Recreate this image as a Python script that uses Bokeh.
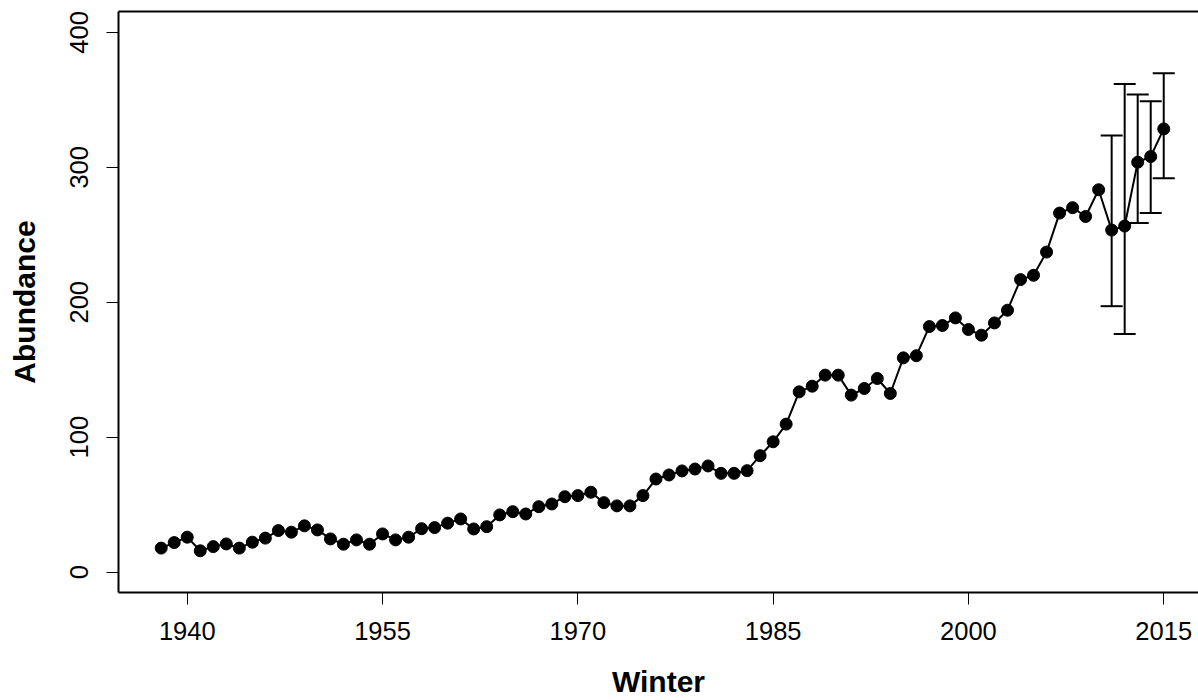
from bokeh.plotting import figure
from bokeh.models import Range1d, FixedTicker, LinearAxis, Whisker, TeeHead, ColumnDataSource
from bokeh.embed import file_html
from bokeh.resources import INLINE

years = list(range(1938, 2016))
abundance = [
    17.8, 21.9, 25.9, 15.8, 18.9, 20.9, 17.8, 22.2, 25.2, 30.8,
    29.6, 34.3, 31.3, 24.6, 20.7, 23.9, 20.7, 28.3, 23.9, 25.9,
    32.2, 33.0, 36.3, 39.4, 32.0, 33.7, 42.4, 44.8, 43.1, 48.5,
    50.5, 55.9, 56.7, 59.2, 51.5, 49.1, 49.1, 56.7, 69.0, 72.0,
    75.0, 76.4, 78.7, 73.2, 73.2, 75.2, 86.3, 96.6, 109.7, 133.6,
    137.8, 146.0, 146.0, 131.2, 136.1, 143.5, 132.4, 158.8, 160.4, 182.0,
    182.8, 188.4, 179.8, 175.6, 184.7, 194.1, 216.8, 220.0, 237.2, 266.1,
    270.1, 263.6, 283.4, 253.5, 256.5, 303.8, 308.0, 328.5,
]

err_years = [2011, 2012, 2013, 2014, 2015]
err_lower = [197.1, 176.5, 258.7, 266.1, 292.0]
err_upper = [323.6, 361.8, 353.9, 349.0, 369.7]

x_ticks = [1940, 1955, 1970, 1985, 2000, 2015]
y_ticks = [0, 100, 200, 300, 400]

FONT = "Liberation Sans"

p = figure(width=1198, height=700, output_backend="svg", toolbar_location=None,
           x_range=Range1d(1934.72, 2017.67), y_range=Range1d(-15.1, 415.5),
           min_border_left=118, min_border_right=0, min_border_top=11, min_border_bottom=107)
p.outline_line_color = None
p.xgrid.visible = False
p.ygrid.visible = False
p.background_fill_color = "white"
p.border_fill_color = "white"

for ax in (p.xaxis[0], p.yaxis[0]):
    ax.axis_line_width = 2
    ax.axis_line_color = "black"
    ax.major_tick_line_width = 1
    ax.major_tick_line_color = "black"
    ax.major_tick_out = 12
    ax.major_tick_in = 0
    ax.minor_tick_line_color = None
    ax.major_label_text_font = FONT
    ax.major_label_text_font_size = "25.5px"
    ax.major_label_text_color = "black"
    ax.axis_label_text_font = FONT
    ax.axis_label_text_font_size = "30px"
    ax.axis_label_text_font_style = "bold"
    ax.axis_label_text_color = "black"

p.xaxis.ticker = FixedTicker(ticks=x_ticks)
p.yaxis.ticker = FixedTicker(ticks=y_ticks)
p.xaxis.axis_label = "Winter"
p.yaxis.axis_label = "Abundance"
p.yaxis.major_label_orientation = "vertical"
p.xaxis.major_label_standoff = 17
p.yaxis.major_label_standoff = 18
p.xaxis.axis_label_standoff = 22
p.yaxis.axis_label_standoff = 27

top = LinearAxis(ticker=FixedTicker(ticks=[]), axis_line_width=2, axis_line_color="black",
                 major_tick_out=0, major_tick_in=0, minor_tick_out=0, minor_tick_in=0,
                 major_label_text_font_size="0px", major_label_standoff=0)
p.add_layout(top, "above")

p.line(years, abundance, line_width=2, color="black")
p.scatter(years, abundance, size=12, color="black")

src = ColumnDataSource(dict(year=err_years, lo=err_lower, hi=err_upper))
w = Whisker(base="year", lower="lo", upper="hi", source=src, line_width=2, line_color="black",
            upper_head=TeeHead(size=22, line_width=2, line_color="black"),
            lower_head=TeeHead(size=22, line_width=2, line_color="black"))
p.add_layout(w)

open("out.html", "w").write(file_html(p, INLINE))
